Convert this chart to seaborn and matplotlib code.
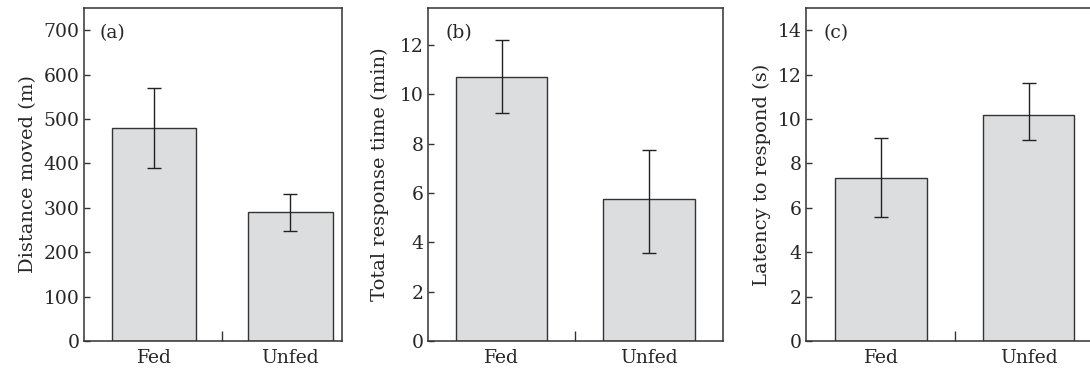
"""
Fed vs unfed comparison: distance moved, total response time, latency.
Three bar panels with error bars, journal-style box frames.
"""

import numpy as np
import pandas as pd
import matplotlib
matplotlib.use("Agg")
import matplotlib.pyplot as plt
import seaborn as sns

# Data
groups = ['Fed', 'Unfed']

distance_mean = [480, 290]
distance_lo = [390, 247]
distance_hi = [570, 331]

response_mean = [10.7, 5.75]
response_lo = [9.25, 3.55]
response_hi = [12.2, 7.75]

latency_mean = [7.35, 10.2]
latency_lo = [5.6, 9.05]
latency_hi = [9.15, 11.6]

panel_letters = ['(a)', '(b)', '(c)']
y_labels = ['Distance moved (m)', 'Total response time (min)', 'Latency to respond (s)']
y_limits = [(0, 750), (0, 13.5), (0, 15)]
y_ticks = [np.arange(0, 701, 100), np.arange(0, 13, 2), np.arange(0, 15, 2)]

sns.set_style('white')
plt.rcParams['font.family'] = ['DejaVu Serif']
plt.rcParams['font.size'] = 13

fig = plt.figure(figsize=(10.9, 3.71), dpi=100)

# axes boxes in figure fractions: left, bottom, width, height
boxes = [
    (0.0771, 0.081, 0.2367, 0.8976),
    (0.3924, 0.081, 0.2709, 0.8976),
    (0.7394, 0.081, 0.2706, 0.8976),
]
x_limits = [(-0.515, 1.38), (-0.5, 1.5), (-0.51, 1.49)]
label_pads = [5, 8, 5]

bar_fill = '#dcdddf'
edge = '#333333'

panels = [
    (distance_mean, distance_lo, distance_hi),
    (response_mean, response_lo, response_hi),
    (latency_mean, latency_lo, latency_hi),
]

for i, (means, lo, hi) in enumerate(panels):
    ax = fig.add_axes(boxes[i])
    df = pd.DataFrame({'group': groups, 'value': means})
    sns.barplot(data=df, x='group', y='value', ax=ax, color=bar_fill,
                edgecolor=edge, linewidth=1.0, width=0.62, saturation=1)

    pos = np.arange(len(groups))
    means_arr = np.array(means)
    yerr = [means_arr - np.array(lo), np.array(hi) - means_arr]
    ax.errorbar(pos, means_arr, yerr=yerr, fmt='none', ecolor='#222222',
                elinewidth=1.0, capsize=5, capthick=1.0)

    ax.set_xlim(*x_limits[i])
    ax.set_ylim(*y_limits[i])
    ax.set_yticks(y_ticks[i])
    ax.set_xlabel('')
    ax.set_ylabel(y_labels[i], fontsize=14, labelpad=label_pads[i])

    # only a single inward tick between the two groups
    ax.set_xticks(pos)
    ax.set_xticklabels(groups)
    ax.tick_params(axis='x', which='major', bottom=True, length=0, pad=6, labelsize=13.5)
    ax.set_xticks([0.5], minor=True)
    ax.tick_params(axis='x', which='minor', bottom=True, direction='in',
                   length=7, width=1, color=edge)
    ax.tick_params(axis='y', left=True, direction='in', length=4, width=1,
                   color=edge, labelsize=13.5, pad=3)

    for side in ['top', 'right', 'left', 'bottom']:
        ax.spines[side].set_visible(True)
        ax.spines[side].set_color(edge)
        ax.spines[side].set_linewidth(1.1)

    ax.text(0.06, 0.925, panel_letters[i], transform=ax.transAxes,
            fontsize=13.5, ha='left', va='center')

fig.savefig('out.png', dpi=100)
